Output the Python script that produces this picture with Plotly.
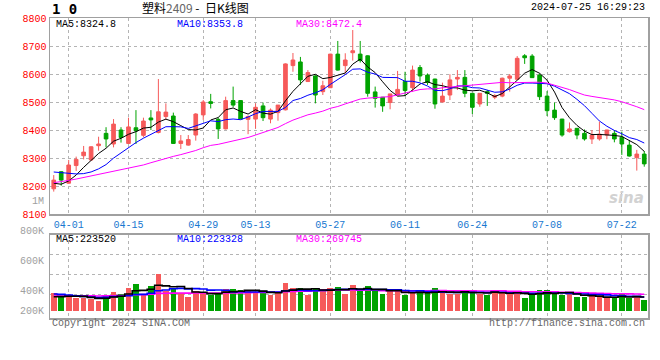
import plotly.graph_objects as go
import pandas as pd

# ---------------- data ----------------
dates = ["03-28", "03-29", "04-01", "04-02", "04-03", "04-08", "04-09", "04-10", "04-11", "04-12",
         "04-15", "04-16", "04-17", "04-18", "04-19", "04-22", "04-23", "04-24", "04-25", "04-26",
         "04-29", "04-30", "05-06", "05-07", "05-08", "05-09", "05-10", "05-13", "05-14", "05-15",
         "05-16", "05-17", "05-20", "05-21", "05-22", "05-23", "05-24", "05-27", "05-28", "05-29",
         "05-30", "05-31", "06-03", "06-04", "06-05", "06-06", "06-07", "06-11", "06-12", "06-13",
         "06-14", "06-17", "06-18", "06-19", "06-20", "06-21", "06-24", "06-25", "06-26", "06-27",
         "06-28", "07-01", "07-02", "07-03", "07-04", "07-05", "07-08", "07-09", "07-10", "07-11",
         "07-12", "07-15", "07-16", "07-17", "07-18", "07-19", "07-22", "07-23", "07-24", "07-25"]

opens = [8190, 8251, 8210, 8273, 8308, 8293, 8344, 8388, 8350, 8400,
         8352, 8408, 8381, 8443, 8391, 8448, 8450, 8352, 8346, 8382,
         8454, 8501, 8438, 8404, 8505, 8505, 8438, 8439, 8486, 8439,
         8462, 8472, 8630, 8643, 8573, 8593, 8537, 8551, 8671, 8630,
         8676, 8671, 8665, 8536, 8517, 8498, 8525, 8573, 8551, 8623,
         8596, 8582, 8500, 8525, 8582, 8588, 8531, 8493, 8537, 8517,
         8521, 8585, 8581, 8665, 8664, 8596, 8521, 8471, 8439, 8394,
         8406, 8388, 8368, 8368, 8382, 8388, 8374, 8346, 8301, 8314]
highs = [8239, 8253, 8293, 8305, 8343, 8342, 8376, 8410, 8439, 8410,
         8444, 8471, 8444, 8471, 8582, 8495, 8462, 8382, 8382, 8460,
         8507, 8529, 8445, 8519, 8555, 8507, 8452, 8495, 8498, 8477,
         8489, 8638, 8675, 8661, 8614, 8596, 8576, 8672, 8718, 8674,
         8757, 8718, 8667, 8555, 8518, 8529, 8611, 8608, 8630, 8632,
         8602, 8583, 8569, 8599, 8614, 8614, 8532, 8532, 8543, 8528,
         8587, 8600, 8664, 8671, 8671, 8602, 8539, 8498, 8440, 8427,
         8407, 8402, 8400, 8430, 8401, 8400, 8394, 8364, 8329, 8325]
lows = [8180, 8201, 8208, 8254, 8295, 8290, 8326, 8338, 8338, 8355,
        8350, 8350, 8374, 8400, 8388, 8436, 8350, 8332, 8344, 8362,
        8436, 8477, 8368, 8402, 8481, 8439, 8385, 8405, 8432, 8424,
        8433, 8470, 8608, 8561, 8572, 8495, 8525, 8550, 8612, 8602,
        8648, 8641, 8519, 8480, 8465, 8474, 8524, 8521, 8537, 8573,
        8561, 8476, 8499, 8507, 8543, 8517, 8457, 8483, 8486, 8510,
        8517, 8537, 8580, 8636, 8586, 8507, 8450, 8436, 8376, 8391,
        8367, 8362, 8350, 8362, 8367, 8356, 8311, 8305, 8255, 8269]
closes = [8221, 8221, 8275, 8295, 8321, 8340, 8350, 8368, 8421, 8373,
          8411, 8397, 8432, 8436, 8465, 8464, 8352, 8361, 8366, 8457,
          8500, 8495, 8404, 8505, 8489, 8439, 8448, 8481, 8444, 8471,
          8489, 8636, 8650, 8579, 8605, 8525, 8558, 8671, 8614, 8650,
          8683, 8648, 8531, 8513, 8486, 8529, 8545, 8541, 8614, 8593,
          8570, 8493, 8521, 8579, 8588, 8531, 8481, 8531, 8531, 8523,
          8585, 8593, 8656, 8658, 8587, 8519, 8469, 8444, 8382, 8404,
          8382, 8368, 8382, 8385, 8400, 8368, 8350, 8307, 8314, 8279]
volumes = [286000, 242000, 242000, 214500, 203500, 198000, 165000, 247500, 313500, 275000,
           374000, 440000, 275000, 407000, 610500, 324500, 368500, 297000, 231000, 330000,
           297000, 258500, 297000, 357500, 357500, 341000, 324500, 297000, 297000, 258500,
           313500, 462000, 374000, 374000, 258500, 352000, 352000, 368500, 396000, 275000,
           423500, 330000, 407000, 324500, 275000, 324500, 330000, 258500, 302500, 297000,
           302500, 368500, 297000, 275000, 275000, 341000, 319000, 275000, 258500, 341000,
           297000, 275000, 313500, 209000, 269500, 341000, 341000, 275000, 258500, 286000,
           225500, 231000, 242000, 220000, 203500, 214500, 297000, 203500, 242000, 176000]

# sessions before the visible window (only feed the moving averages)
prior_closes = [8120, 8135, 8150, 8160, 8165, 8190, 8235, 8250, 8230, 8238,
                8225, 8210, 8195, 8214, 8210, 8180, 8170, 8185, 8196, 8200,
                8250, 8290, 8320, 8310, 8280, 8240, 8215, 8190, 8184]
prior_volumes = [190000, 210000, 200000, 225000, 195000, 215000, 205000, 230000, 185000, 210000,
                 200000, 220000, 205000, 203000, 250000, 280000, 265000, 290000, 262000, 270000,
                 300000, 340000, 330000, 310000, 315000, 230000, 215000, 214000, 210000]

price_ticks = [8100, 8200, 8300, 8400, 8500, 8600, 8700, 8800]
date_ticks = ["04-01", "04-15", "04-29", "05-13", "05-27", "06-11", "06-24", "07-08", "07-22"]
ma_labels = ["MA5:8324.8", "MA10:8353.8", "MA30:8472.4"]
vol_ma_labels = ["MA5:223520", "MA10:223328", "MA30:269745"]
vol_axis_labels = ["1M", "800K", "600K", "400K", "200K"]
title_name = "塑料"
title_code = "2409"
title_rest = " -  日K线图"
timestamp = "2024-07-25 16:29:23"

# ---------------- styling ----------------
RED = "#f65a5a"
GREEN = "#00a300"
MA_COLORS = ["#000000", "#0000ff", "#ff00ff"]
GRID = "#b4b4b4"
FRAME = "#a0a0a0"
MONO = "Liberation Mono, DejaVu Sans Mono, monospace"

W, H = 660, 360
ML, MR, MT, MB = 50, 10, 18, 42
PH = H - MT - MB
PW = W - ML - MR


def py(ypx):
    return (H - MB - ypx) / PH


def px(xpx):
    return (xpx - ML) / PW


n = len(prior_closes)
all_c = pd.Series(prior_closes + closes, dtype=float)
all_v = pd.Series(prior_volumes + volumes, dtype=float)
price_mas = [all_c.rolling(w).mean().iloc[n:].tolist() for w in (5, 10, 30)]
vol_mas = [all_v.rolling(w).mean().iloc[n:].tolist() for w in (5, 10, 30)]

fig = go.Figure()
fig.add_trace(go.Candlestick(
    x=dates, open=opens, high=highs, low=lows, close=closes,
    increasing=dict(line=dict(color=RED, width=1), fillcolor=RED),
    decreasing=dict(line=dict(color=GREEN, width=1), fillcolor=GREEN),
    whiskerwidth=0, xaxis="x", yaxis="y", hoverinfo="skip"))
for ma, col in zip(price_mas, MA_COLORS):
    fig.add_trace(go.Scatter(x=dates, y=ma, mode="lines", line=dict(color=col, width=1),
                             xaxis="x", yaxis="y", hoverinfo="skip"))

bar_colors = [RED if c >= o else GREEN for o, c in zip(opens, closes)]
fig.add_trace(go.Bar(x=dates, y=volumes, marker=dict(color=bar_colors, line=dict(width=0)),
                     width=0.76, xaxis="x2", yaxis="y2", hoverinfo="skip"))
for ma, col in zip(vol_mas[::-1], MA_COLORS[::-1]):
    fig.add_trace(go.Scatter(x=dates, y=ma, mode="lines", line=dict(color=col, width=1.6, shape="hvh"),
                             xaxis="x2", yaxis="y2", hoverinfo="skip"))

axis_common = dict(showline=True, mirror=True, linecolor=FRAME, linewidth=1.5,
                   gridcolor=GRID, griddash="dot", gridwidth=1, zeroline=False, ticks="")

fig.update_layout(
    width=W, height=H, margin=dict(l=ML, r=MR, t=MT, b=MB),
    paper_bgcolor="white", plot_bgcolor="white", showlegend=False,
    hovermode=False, bargap=0,
    xaxis=dict(type="category", categoryorder="array", categoryarray=dates,
               range=[-0.5, len(dates) - 0.5], domain=[0, 1], anchor="y",
               tickvals=date_ticks, ticktext=date_ticks, showgrid=True,
               tickfont=dict(family=MONO, size=10, color="#1778d0"),
               rangeslider=dict(visible=False), **axis_common),
    yaxis=dict(domain=[py(214), 1], range=[8100, 8800], tickvals=price_ticks,
               tickfont=dict(family=MONO, size=10, color="#ff0000"), showgrid=True,
               **axis_common),
    xaxis2=dict(type="category", categoryorder="array", categoryarray=dates,
                range=[-0.5, len(dates) - 0.5], anchor="y2", matches="x",
                tickvals=date_ticks, showticklabels=False, showgrid=True, **axis_common),
    yaxis2=dict(domain=[0, py(234.5)], range=[-121000, 1261000],
                tickvals=[260000, 591000, 922000], showticklabels=False, showgrid=True,
                **axis_common),
)


def note(xp, yp, text, anchor, font):
    return dict(x=px(xp), y=py(yp), xref="paper", yref="paper", text=text, showarrow=False,
                xanchor=anchor, yanchor="middle", font=font)


ann = []
ann.append(note(50, 9, "<b>1 0</b>", "left", dict(family="DejaVu Sans Mono", size=14, color="black")))
ann.append(note(140, 8, title_name + "<span style='color:#666'>" + title_code + "</span>" + title_rest,
                "left", dict(family="Noto Sans CJK SC", size=12, color="black")))
ann.append(note(649, 8, timestamp, "right", dict(family=MONO, size=10, color="black")))
for lab, col, xp in zip(ma_labels, MA_COLORS, [54, 175, 295]):
    ann.append(note(xp, 24.5, lab, "left", dict(family=MONO, size=10, color=col)))
for lab, col, xp in zip(vol_ma_labels, MA_COLORS, [54, 175, 295]):
    ann.append(note(xp, 239, lab, "left", dict(family=MONO, size=10, color=col)))
for lab, yp in zip(vol_axis_labels, [201, 231, 261, 291, 311]):
    ann.append(note(46, yp, lab, "right", dict(family=MONO, size=10, color="#a0a0a0")))
ann.append(note(50, 323, "Copyright 2024 SINA.COM", "left", dict(family=MONO, size=10, color="#666666")))
ann.append(note(649, 323, "http://finance.sina.com.cn", "right", dict(family=MONO, size=10, color="#666666")))
ann.append(note(648, 198, "<b><i>sina</i></b>", "right", dict(family="DejaVu Sans", size=15, color="#d2d2d2")))
fig.update_layout(annotations=ann)

# remove the default page margin so the 660x360 figure fills the window exactly
fig.write_html("out.html",
               config={"displayModeBar": False, "staticPlot": True},
               post_script="document.body.style.margin='0';document.body.style.padding='0';")
